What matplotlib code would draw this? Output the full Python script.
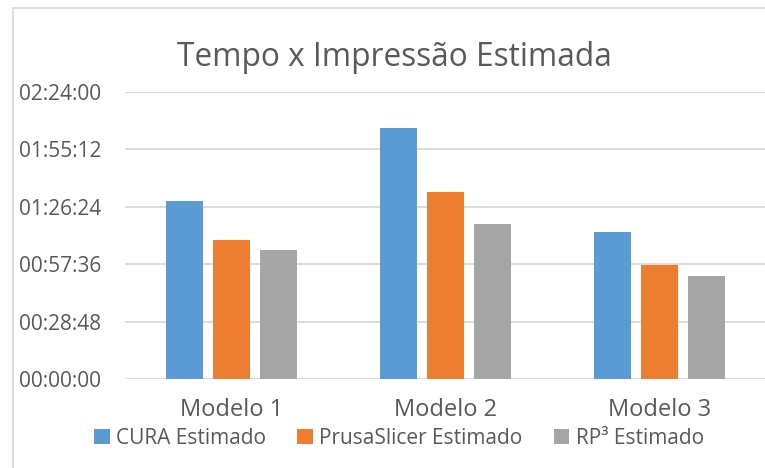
import numpy as np
import matplotlib.pyplot as plt
from matplotlib.ticker import FuncFormatter, MultipleLocator

# Dados (tempo estimado em segundos)
modelos = ["Modelo 1", "Modelo 2", "Modelo 3"]
series = ["CURA Estimado", "PrusaSlicer Estimado", "RP³ Estimado"]
cura = [5370, 7564, 4418]         # ~1:29:30, 2:06:04, 1:13:38
prusa = [4198, 5641, 3417]        # ~1:09:58, 1:34:01, 0:56:57
rp3 = [3877, 4679, 3095]          # ~1:04:37, 1:17:59, 0:51:35
cores = ["#5B9BD5", "#ED7D31", "#A5A5A5"]

plt.rcParams['font.family'] = ['Open Sans', 'DejaVu Sans']
texto = "#595959"


def hms(v, pos=None):
    v = int(round(v))
    return f"{v // 3600:02d}:{(v % 3600) // 60:02d}:{v % 60:02d}"


fig = plt.figure(figsize=(7.65, 4.68), dpi=100)
ax = fig.add_axes([125 / 765, 1 - 379 / 468, 641 / 765, 287 / 468])

x = np.arange(len(modelos))
largura = 0.173
passo = 0.22
for i, (nome, valores) in enumerate(zip(series, [cura, prusa, rp3])):
    ax.bar(x + (i - 1) * passo, valores, largura, color=cores[i], label=nome, zorder=3)

ax.set_xlim(-0.5, 2.5)
ax.set_ylim(0, 8640)
ax.yaxis.set_major_locator(MultipleLocator(1728))
ax.yaxis.set_major_formatter(FuncFormatter(hms))
ax.grid(axis='y', color='#D9D9D9', linewidth=1.3, zorder=0)
for s in ax.spines.values():
    s.set_visible(False)
ax.tick_params(axis='both', length=0, colors=texto)
ax.tick_params(axis='y', pad=17, labelsize=15)
ax.tick_params(axis='x', pad=14)
ax.set_xticks(x)
ax.set_xticklabels(modelos, fontsize=17)

fig.text(394 / 765, 1 - 57 / 468, "Tempo x Impressão Estimada", ha='center', va='center',
         fontsize=22.8, color=texto)

leg = fig.legend(loc='center', bbox_to_anchor=(399 / 765, 1 - 438 / 468), ncol=3, frameon=False,
                 fontsize=15, handlelength=0.75, handleheight=0.75, handletextpad=0.3,
                 columnspacing=1.5, labelcolor=texto)

# Borda do grafico (esquerda e topo)
fig.add_artist(plt.Line2D([13 / 765, 13 / 765], [0, 1 - 8 / 468], color='#D9D9D9', linewidth=1.2,
                          transform=fig.transFigure))
fig.add_artist(plt.Line2D([13 / 765, 1], [1 - 8 / 468, 1 - 8 / 468], color='#D9D9D9', linewidth=1.2,
                          transform=fig.transFigure))

fig.savefig("out.png", dpi=100, facecolor='white')
